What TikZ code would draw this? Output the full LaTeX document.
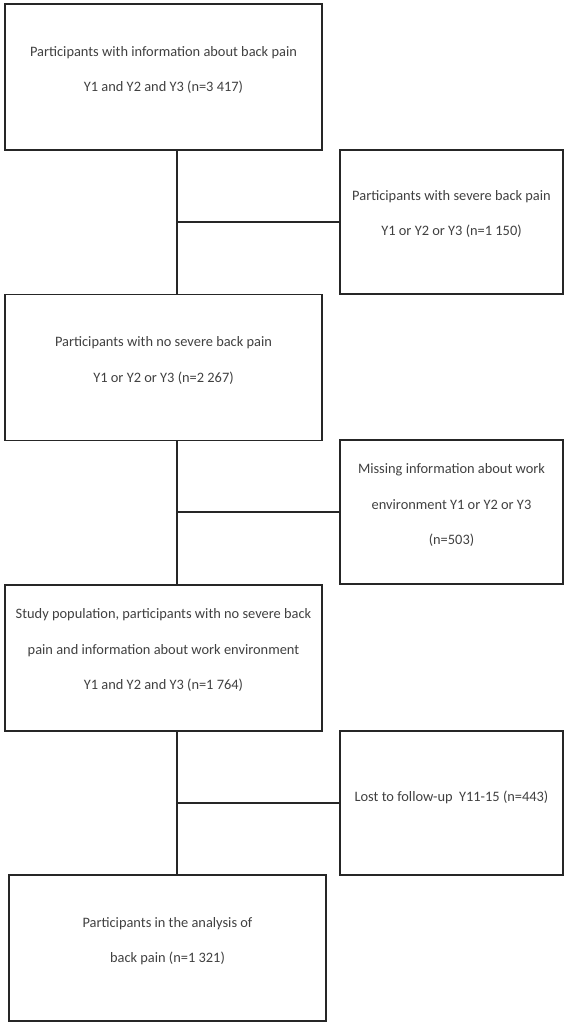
\documentclass[tikz,border=0pt]{standalone}
\usepackage{fontspec}
\setmainfont{Carlito}
\begin{document}
\begin{tikzpicture}[x=1pt,y=1pt,
  box/.style={draw=black!85, line width=1.7pt, minimum width=317pt, minimum height=146pt, inner sep=0pt},
  sbox/.style={draw=black!85, line width=1.4pt, minimum width=223pt, minimum height=144pt, inner sep=0pt},
  txt/.style={align=center, text=black!75, font=\fontsize{14.4pt}{35.5pt}\selectfont, inner sep=0pt},
  conn/.style={draw=black!85, line width=1.2pt}]
\useasboundingbox (0,0) rectangle (568,-1026);
% main boxes
\node[box] (b1) at (163.5,-77) {};
\node[box] (b3) at (163.5,-367.5) {};
\node[box] (b5) at (163.5,-658) {};
\node[box] (b7) at (167.5,-948) {};
% side boxes
\node[sbox] (b2) at (451.5,-222) {};
\node[sbox] (b4) at (451.5,-512) {};
\node[sbox] (b6) at (451.5,-803) {};
% texts
\node[txt] (t1) at ([yshift=7pt]b1.center) {Participants with information about back pain\\Y1 and Y2 and Y3 (n=3 417)};
\node[txt] (t2) at ([yshift=8pt]b2.center) {Participants with severe back pain\\Y1 or Y2 or Y3 (n=1 150)};
\node[txt] (t3) at ([yshift=7pt]b3.center) {Participants with no severe back pain\\Y1 or Y2 or Y3 (n=2 267)};
\node[txt] (t4) at ([yshift=7pt]b4.center) {Missing information about work\\environment Y1 or Y2 or Y3\\(n=503)};
\node[txt] (t5) at ([yshift=8pt]b5.center) {Study population, participants with no severe back\\pain and information about work environment\\Y1 and Y2 and Y3 (n=1 764)};
\node[txt] (t6) at ([yshift=6pt]b6.center) {Lost to follow-up\ \ Y11-15 (n=443)};
\node[txt] (t7) at ([yshift=7pt]b7.center) {Participants in the analysis of\\back pain (n=1 321)};
% connectors
\coordinate (v) at (177,0);
\draw[conn] (b1.south -| v) -- (b3.north -| v);
\draw[conn] (b2.west -| v) -- (b2.west);
\draw[conn] (b3.south -| v) -- (b5.north -| v);
\draw[conn] (b4.west -| v) -- (b4.west);
\draw[conn] (b5.south -| v) -- (b7.north -| v);
\draw[conn] (b6.west -| v) -- (b6.west);
\end{tikzpicture}
\end{document}
